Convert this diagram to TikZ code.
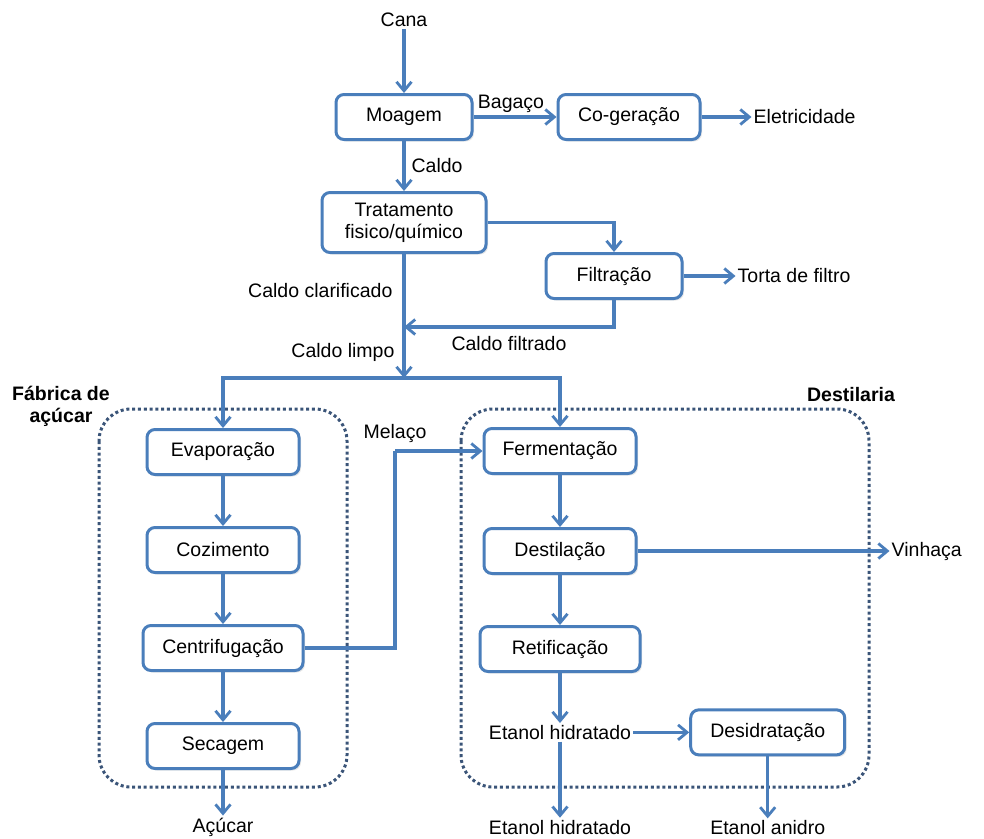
\documentclass[tikz,border=0pt]{standalone}
\usepackage{fontspec}
\setmainfont{Liberation Sans}
\usepackage{tikz}
\usetikzlibrary{positioning,arrows.meta,shadows}
\definecolor{procblue}{RGB}{74,126,187}
\definecolor{grpblue}{RGB}{58,84,120}
\newcommand{\diagfont}{\fontsize{19.5}{22}\selectfont}
\tikzset{
  box/.style   = {draw=procblue, line width=3pt, rounded corners=8pt, fill=white, align=center,
                  minimum width=152pt, minimum height=45pt, inner sep=3pt,
                  drop shadow={opacity=0.18, shadow xshift=2pt, shadow yshift=-2pt}},
  txt/.style   = {inner sep=2pt, align=center},
  lbl/.style   = {inner sep=2pt},
  flow/.style  = {-{Straight Barb[length=9pt, width=15pt, line width=2.8pt]}, line width=3.2pt, draw=procblue},
  line/.style  = {line width=3.2pt, draw=procblue},
  group/.style = {draw=grpblue, line width=3pt, dash pattern=on 3pt off 2.8pt, rounded corners=32pt},
  grplbl/.style= {font=\diagfont\bfseries, align=center, inner sep=1pt},
}

\begin{document}
\begin{tikzpicture}[x=1pt, y=-1pt, font=\diagfont]
  \useasboundingbox (0,0) rectangle (984,838);

  % sections
  \draw[group] (99,409) rectangle (347,787);
  \draw[group] (461,409) rectangle (869,787);
  \node[grplbl] (fabrica) at (61,406) {Fábrica de\\açúcar};
  \node[grplbl] (destilaria) at (851,395) {Destilaria};

  % juice preparation
  \node[txt] (cana) at (404,20) {Cana};
  \node[box, minimum width=136pt] (moagem) at (404,117) {Moagem};
  \node[box, minimum width=142pt, right=83pt of moagem] (cogen) {Co-geração};
  \node[txt, right=50pt of cogen] (eletric) {Eletricidade};
  \node[box, minimum width=164pt, minimum height=60pt, below=50pt of moagem] (trat) {Tratamento\\fisico/químico};
  \node[box, minimum width=136pt] (filt) at (614,276) {Filtração};
  \node[txt, right=52pt of filt] (torta) {Torta de filtro};
  \coordinate (mix) at (404,327);
  \coordinate (split) at (404,378);

  % sugar factory
  \node[box] (evap) at (223,452) {Evaporação};
  \node[box, below=50pt of evap] (cozi) {Cozimento};
  \node[box, minimum width=160pt, below=50pt of cozi] (centr) {Centrifugação};
  \node[box, below=50pt of centr] (secag) {Secagem};
  \node[txt] (acucar) at (223,827) {Açúcar};

  % distillery
  \coordinate (mel) at (395,451);
  \node[box] (ferm) at (560,451) {Fermentação};
  \node[box, below=52pt of ferm] (destil) {Destilação};
  \node[box, minimum width=160pt, below=50pt of destil] (retif) {Retificação};
  \node[txt, right=252pt of destil] (vinhaca) {Vinhaça};
  \node[txt, below=50pt of retif] (etahid) {Etanol hidratado};
  \node[box, minimum width=154pt, right=56pt of etahid] (desid) {Desidratação};
  \node[txt, below=76pt of etahid] (etahidout) {Etanol hidratado};
  \node[txt, below=62pt of desid] (etanid) {Etanol anidro};

  \draw[flow] (cana) -- (moagem);
  \draw[flow] (moagem) -- node[lbl, above=1pt, xshift=-4pt] {Bagaço} (cogen);
  \draw[flow] (cogen) -- (eletric);
  \draw[flow] (moagem) -- node[lbl, right=4pt] {Caldo} (trat);
  \draw[flow] (trat.east) -| (filt.north);
  \draw[flow] (filt) -- (torta);
  \draw[flow] (filt.south) |- node[lbl, pos=0.75, below=6pt] {Caldo filtrado} (mix);
  \draw[flow] (trat.south) -- node[lbl, pos=0.5, left=8pt] {Caldo clarificado} (mix) -- node[lbl, left=6pt] {Caldo limpo} (split);
  \draw[flow] (split) -| (evap.north);
  \draw[flow] (split) -| (ferm.north);

  \draw[flow] (evap) -- (cozi);
  \draw[flow] (cozi) -- (centr);
  \draw[flow] (centr) -- (secag);
  \draw[flow] (secag) -- (acucar);
  \draw[line] (centr.east) -| (mel);
  \draw[flow] (mel) -- node[lbl, pos=0, above=5pt] {Melaço} (ferm.west);

  \draw[flow] (ferm) -- (destil);
  \draw[flow] (destil) -- (vinhaca);
  \draw[flow] (destil) -- (retif);
  \draw[flow] (retif) -- (etahid);
  \draw[flow] (etahid) -- (desid);
  \draw[flow] (etahid) -- (etahidout);
  \draw[flow] (desid) -- (etanid);
\end{tikzpicture}
\end{document}
